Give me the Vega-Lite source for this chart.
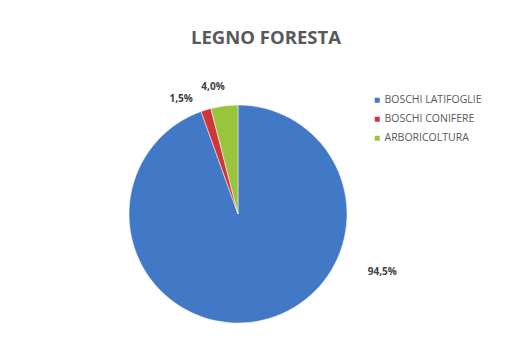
{
  "$schema": "https://vega.github.io/schema/vega-lite/v6.json",
  "autosize": {"type": "none"},
  "width": 218,
  "height": 218,
  "padding": {"left": 129, "top": 105, "right": 160, "bottom": 31},
  "background": "#ffffff",
  "title": {
    "text": "LEGNO FORESTA",
    "font": "Open Sans",
    "fontSize": 18.5,
    "fontWeight": "bold",
    "color": "#595959",
    "anchor": "middle",
    "frame": "group",
    "baseline": "alphabetic",
    "offset": 20,
    "dx": 28
  },
  "data": {
    "values": [
      {"categoria": "BOSCHI LATIFOGLIE", "valore": 94.5, "etichetta": "94,5%"},
      {"categoria": "BOSCHI CONIFERE", "valore": 1.5, "etichetta": "1,5%"},
      {"categoria": "ARBORICOLTURA", "valore": 4.0, "etichetta": "4,0%"}
    ]
  },
  "layer": [
    {
      "mark": {"type": "arc", "outerRadius": 109, "stroke": "#ffffff", "strokeWidth": 0.5},
      "encoding": {
        "theta": {"field": "valore", "type": "quantitative", "stack": true},
        "order": {"field": "categoria", "sort": "descending"},
        "color": {
          "field": "categoria",
          "type": "nominal",
          "sort": null,
          "scale": {
            "domain": ["BOSCHI LATIFOGLIE", "BOSCHI CONIFERE", "ARBORICOLTURA"],
            "range": ["#4279C6", "#D1353A", "#9BC43E"]
          },
          "legend": {
            "title": null,
            "orient": "none",
            "legendX": 243,
            "legendY": -10,
            "symbolType": "square",
            "symbolSize": 25,
            "symbolStrokeWidth": 0,
            "labelFont": "Open Sans",
            "labelFontSize": 10.5,
            "labelColor": "#595959",
            "rowPadding": 8,
            "labelOffset": 2
          }
        }
      }
    },
    {
      "mark": {"type": "text", "font": "Open Sans", "fontSize": 10, "fontWeight": "bold", "color": "#404040"},
      "encoding": {
        "theta": {
          "field": "valore",
          "type": "quantitative",
          "stack": true,
          "scale": {"type": "pow", "exponent": 1.56, "domain": [0, 100], "range": [0, 6.2832]}
        },
        "radius": {
          "field": "valore",
          "type": "quantitative",
          "scale": {"type": "linear", "domain": [0, 100], "range": [128, 157], "zero": false}
        },
        "order": {"field": "categoria", "sort": "descending"},
        "text": {"field": "etichetta", "type": "nominal"}
      }
    }
  ],
  "resolve": {"scale": {"theta": "independent"}},
  "config": {"view": {"stroke": null}}
}
